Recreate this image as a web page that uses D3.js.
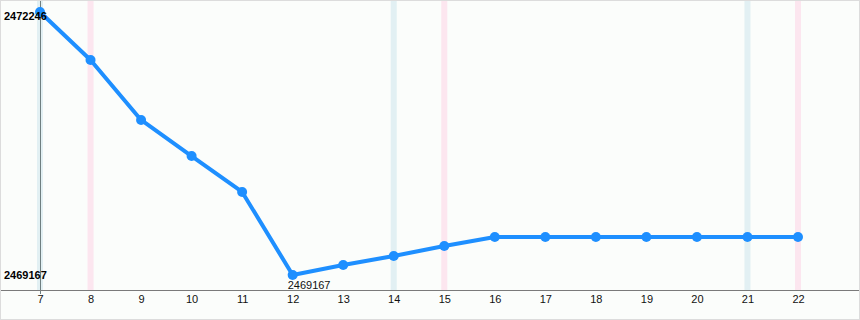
<!DOCTYPE html>
<html>
<head>
<meta charset="utf-8">
<script src="https://cdn.jsdelivr.net/npm/d3@7"></script>
<style>
  body { margin: 0; background: #fff; }
  text { font-family: "Liberation Sans", Arial, sans-serif; }
</style>
</head>
<body>
<div id="chart"></div>
<script>
// data
let days = [7, 8, 9, 10, 11, 12, 13, 14, 15, 16, 17, 18, 19, 20, 21, 22];
let values = [2472246, 2471684, 2470982, 2470560, 2470139, 2469167, 2469284, 2469389,
  2469507, 2469612, 2469612, 2469612, 2469612, 2469612, 2469612, 2469612];
let blueDays = [7, 14, 21];
let pinkDays = [8, 15, 22];

let width = 860;
let height = 320;
let plotLeft = 40;
let plotRight = 798;
let plotTop = 12;
let plotBottom = 275;
let axisY = 290;

let svg = d3.select("#chart")
  .append("svg")
  .attr("width", width)
  .attr("height", height);

// background + frame
svg.append("rect")
  .attr("x", 0.5).attr("y", 0.5)
  .attr("width", width - 1).attr("height", height - 1)
  .attr("fill", "#fbfdfb")
  .attr("stroke", "#dcdcdc");

let xScale = d3.scaleLinear()
  .domain([d3.min(days), d3.max(days)])
  .range([plotLeft, plotRight]);

let yScale = d3.scaleLinear()
  .domain([d3.min(values), d3.max(values)])
  .range([plotBottom, plotTop]);

// day bands
svg.selectAll(".blueBand")
  .data(blueDays)
  .enter()
  .append("rect")
  .attr("x", d => xScale(d) - 3)
  .attr("y", 1)
  .attr("width", 6)
  .attr("height", axisY - 1)
  .attr("fill", "#e2f0f3");

svg.selectAll(".pinkBand")
  .data(pinkDays)
  .enter()
  .append("rect")
  .attr("x", d => xScale(d) - 3)
  .attr("y", 1)
  .attr("width", 6)
  .attr("height", axisY - 1)
  .attr("fill", "#fce6ef");

// y axis line
svg.append("line")
  .attr("x1", plotLeft + 0.5).attr("x2", plotLeft + 0.5)
  .attr("y1", 1).attr("y2", axisY + 4)
  .attr("stroke", "#6f7f80")
  .attr("stroke-width", 1);

// x axis
let xAxis = d3.axisBottom(xScale)
  .tickValues(days)
  .tickSize(0)
  .tickPadding(5)
  .tickFormat(d3.format("d"));

let gx = svg.append("g")
  .attr("transform", "translate(0," + axisY + ")")
  .call(xAxis);
gx.select(".domain").remove();
gx.selectAll("text")
  .attr("font-size", 11)
  .attr("fill", "#111")
  .style("font-family", "Liberation Sans, Arial, sans-serif");

svg.append("line")
  .attr("x1", 1).attr("x2", width - 1)
  .attr("y1", axisY + 0.5).attr("y2", axisY + 0.5)
  .attr("stroke", "#7a7a7a");

// line
let line = d3.line()
  .x((d, i) => xScale(days[i]))
  .y(d => yScale(d));

svg.append("path")
  .datum(values)
  .attr("d", line)
  .attr("fill", "none")
  .attr("stroke", "#1e8fff")
  .attr("stroke-width", 4)
  .attr("stroke-linejoin", "round");

svg.selectAll(".dot")
  .data(values)
  .enter()
  .append("circle")
  .attr("cx", (d, i) => xScale(days[i]))
  .attr("cy", d => yScale(d))
  .attr("r", 5)
  .attr("fill", "#1e8fff");

// min / max labels
let maxV = d3.max(values);
let minV = d3.min(values);
let minI = values.indexOf(minV);

svg.append("text")
  .attr("x", 4)
  .attr("y", yScale(maxV) + 8)
  .attr("font-size", 11)
  .attr("font-weight", "bold")
  .attr("fill", "#000")
  .text(maxV);

svg.append("text")
  .attr("x", 4)
  .attr("y", yScale(minV) + 4)
  .attr("font-size", 11)
  .attr("font-weight", "bold")
  .attr("fill", "#000")
  .text(minV);

svg.append("text")
  .attr("x", xScale(days[minI]) - 5)
  .attr("y", yScale(minV) + 14)
  .attr("font-size", 11)
  .attr("fill", "#111")
  .text(minV);
</script>
</body>
</html>
